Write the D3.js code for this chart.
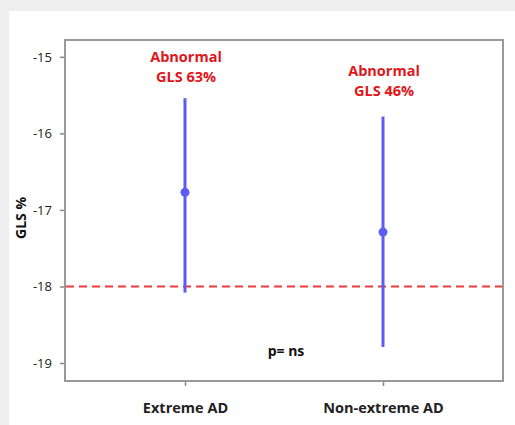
<!DOCTYPE html>
<html>
<head>
<meta charset="utf-8">
<script src="https://cdn.jsdelivr.net/npm/d3@7"></script>
<style>
  body { margin: 0; background: #eeeeee; }
  svg { display: block; font-family: "Open Sans", "Noto Sans", sans-serif; }
</style>
</head>
<body>
<script>
// data
var groups = ["Extreme AD", "Non-extreme AD"];
var means = [-16.77, -17.29];
var upper = [-15.54, -15.78];
var lower = [-18.08, -18.79];
var notes = [["Abnormal", "GLS 63%"], ["Abnormal", "GLS 46%"]];
var yTicks = [-15, -16, -17, -18, -19];
var cutoff = -18;

var W = 515, H = 425;
var mLeft = 65, mRight = 503, mTop = 40, mBottom = 381;

var svg = d3.select("body").append("svg")
  .attr("width", W)
  .attr("height", H);

// white panel
svg.append("rect")
  .attr("x", 9).attr("y", 11)
  .attr("width", W - 9).attr("height", H - 11)
  .attr("fill", "#fff");

var y = d3.scaleLinear().domain([-14.78, -19.235]).range([mTop, mBottom]);
var x = d3.scalePoint().domain(groups).range([mLeft, mRight]).padding(0.606);

// y axis (plain hyphen for the minus)
var yAxis = svg.append("g")
  .attr("transform", "translate(" + (mLeft - 1) + ",0)")
  .call(d3.axisLeft(y).tickValues(yTicks).tickSize(4).tickPadding(8).tickFormat(function(d) { return String(d); }));
yAxis.select(".domain").remove();
yAxis.selectAll("line").attr("stroke", "#888").attr("stroke-width", 1.5);
yAxis.selectAll("text").attr("font-size", 13).attr("fill", "#222")
  .attr("font-family", "'Open Sans', sans-serif");

// x axis
var xAxis = svg.append("g")
  .attr("transform", "translate(0," + (mBottom + 1) + ")")
  .call(d3.axisBottom(x).tickSize(4).tickPadding(17));
xAxis.select(".domain").remove();
xAxis.selectAll("line").attr("stroke", "#888").attr("stroke-width", 1.5);
xAxis.selectAll("text").attr("font-size", 14.5).attr("font-weight", "bold").attr("fill", "#222")
  .attr("font-family", "'Open Sans', sans-serif");

// frame
svg.append("rect")
  .attr("x", mLeft).attr("y", mTop)
  .attr("width", mRight - mLeft).attr("height", mBottom - mTop)
  .attr("fill", "none")
  .attr("stroke", "#999")
  .attr("stroke-width", 2);

// cutoff line
svg.append("line")
  .attr("x1", mLeft + 1).attr("x2", mRight - 1)
  .attr("y1", y(cutoff)).attr("y2", y(cutoff))
  .attr("stroke", "#ee3b3b")
  .attr("stroke-width", 2)
  .attr("stroke-dasharray", "8,5");

// error bars
svg.selectAll(".bar").data(groups).enter().append("line")
  .attr("x1", function(d) { return x(d); })
  .attr("x2", function(d) { return x(d); })
  .attr("y1", function(d, i) { return y(upper[i]); })
  .attr("y2", function(d, i) { return y(lower[i]); })
  .attr("stroke", "#5b5bf5")
  .attr("stroke-width", 3);

svg.selectAll(".dot").data(groups).enter().append("circle")
  .attr("cx", function(d) { return x(d); })
  .attr("cy", function(d, i) { return y(means[i]); })
  .attr("r", 4.5)
  .attr("fill", "#5b5bf5");

// red notes above the bars
var noteTop = [57, 71];
groups.forEach(function(g, i) {
  var t = svg.append("text")
    .attr("x", x(g) + 1)
    .attr("y", noteTop[i] + 5)
    .attr("text-anchor", "middle")
    .attr("font-size", 14.5)
    .attr("font-weight", "bold")
    .attr("fill", "#e0161b");
  notes[i].forEach(function(line, k) {
    t.append("tspan").attr("x", x(g) + 1).attr("dy", k === 0 ? 0 : 20).text(line);
  });
});

svg.append("text")
  .attr("x", 286).attr("y", 356)
  .attr("text-anchor", "middle")
  .attr("font-size", 14)
  .attr("font-weight", "bold")
  .attr("fill", "#111")
  .text("p= ns");

svg.append("text")
  .attr("transform", "translate(26,218) rotate(-90)")
  .attr("text-anchor", "middle")
  .attr("font-size", 14)
  .attr("font-weight", "bold")
  .attr("fill", "#111")
  .text("GLS %");
</script>
</body>
</html>
